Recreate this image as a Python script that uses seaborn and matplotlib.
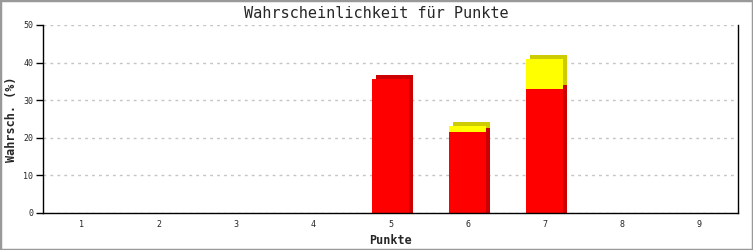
import numpy as np
import pandas as pd
import matplotlib
matplotlib.use("Agg")
import matplotlib.pyplot as plt
import matplotlib.transforms as mtransforms
from matplotlib.patches import Rectangle
import seaborn as sns

categories = ["1", "2", "3", "4", "5", "6", "7", "8", "9"]
red_values = [0, 0, 0, 0, 35.6, 21.6, 33.0, 0, 0]
yellow_values = [0, 0, 0, 0, 0, 1.5, 8.0, 0, 0]
title = "Wahrscheinlichkeit für Punkte"
xlabel = "Punkte"
ylabel = "Wahrsch. (%)"
yticks = [0, 10, 20, 30, 40, 50]

sns.set_style("white")
plt.rcParams["font.family"] = ["DejaVu Sans Mono"]

df = pd.DataFrame({
    "cat": categories,
    "red": red_values,
    "total": [r + y for r, y in zip(red_values, yellow_values)],
})

fig = plt.figure(figsize=(7.53, 2.5), dpi=100)
ax = fig.add_axes([43 / 753, 1 - 213 / 250, (738 - 43) / 753, (213 - 25) / 250])

off = mtransforms.ScaledTranslation(4 / 100, 4 / 100, fig.dpi_scale_trans)
drop = 4 / 3.76  # shadow offset expressed in data units, to reach baseline

# shadow (3D) layers
sns.barplot(data=df, x="cat", y="total", color="#CCCC00", saturation=1, width=0.48,
            ax=ax, zorder=2)
sns.barplot(data=df, x="cat", y="red", color="#CC0000", saturation=1, width=0.48,
            ax=ax, zorder=2)
for p in ax.patches:
    p.set_transform(ax.transData + off)
    p.set_linewidth(0)
    if p.get_height() > 0:
        p.set_y(p.get_y() - drop)
        p.set_height(p.get_height() + drop)
    p.set_clip_on(False)
n1 = len(ax.patches)
# front faces
sns.barplot(data=df, x="cat", y="total", color="#FFFF00", saturation=1, width=0.48,
            ax=ax, zorder=3)
sns.barplot(data=df, x="cat", y="red", color="#FF0000", saturation=1, width=0.48,
            ax=ax, zorder=4)
for p in ax.patches[n1:]:
    p.set_linewidth(0)
for p in ax.patches:
    if p.get_height() <= 0:
        p.set_visible(False)

ax.set_xlim(-0.5, 8.5)
ax.set_ylim(0, 50)
ax.set_yticks(yticks)
ax.yaxis.grid(True, color="#C4C4C4", linestyle=(0, (2, 3)), linewidth=1)
ax.set_axisbelow(True)
ax.tick_params(axis="y", length=5, width=1, labelsize=6, pad=2, left=True, color="black")
ax.tick_params(axis="x", length=0, labelsize=6, pad=5)
for s in ["left", "bottom", "right"]:
    ax.spines[s].set_visible(True)
    ax.spines[s].set_color("black")
    ax.spines[s].set_linewidth(1)
    ax.spines[s].set_zorder(6)
ax.spines["top"].set_visible(False)

fig.text(0.5, 1 - 13 / 250, title, fontsize=11, ha="center", va="center")
ax.set_xlabel(xlabel, fontsize=8.5, fontweight="bold", labelpad=4)
ax.set_ylabel(ylabel, fontsize=8.5, fontweight="bold", labelpad=4)

fig.patches.append(Rectangle((0, 0), 1, 1, transform=fig.transFigure, fill=False,
                             edgecolor="#999999", linewidth=2.5, zorder=10))

fig.savefig("out.png", dpi=100)
